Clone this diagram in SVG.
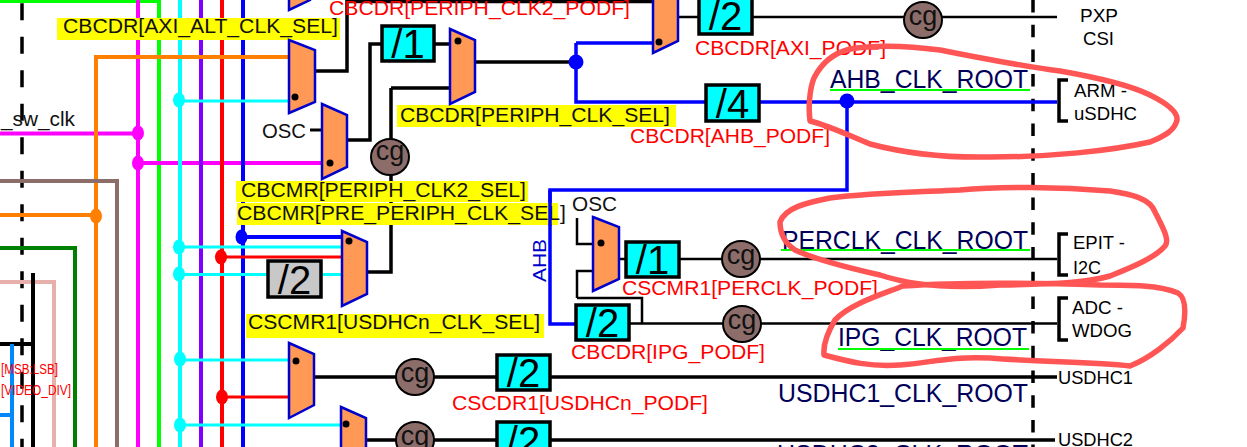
<svg xmlns="http://www.w3.org/2000/svg" width="1247" height="447" viewBox="0 0 1247 447">
<style>
text{font-family:"Liberation Sans",Arial,sans-serif;fill:#000;}
.sel{font-size:20.500px;fill:#111;}
.red{font-size:20.500px;fill:#f00;}
.root{font-size:25px;fill:#00005a;}
.out{font-size:19px;fill:#000;}
.dev{font-size:18px;fill:#000;}
.div{font-size:40px;text-anchor:middle;}
.cgt{font-size:27px;text-anchor:middle;fill:#111;}
.y{fill:#ff0;}
.mux{fill:#ff9955;stroke:#0000cc;stroke-width:2.5;}
.cg{fill:#8c6d6a;stroke:#000;stroke-width:2;}
.box{fill:#0ff;stroke:#000;stroke-width:3.5;}
.box2{fill:#c8c8c8;stroke:#000;stroke-width:3.5;}
.k{fill:none;stroke:#000;stroke-width:3.5;}
.k1{fill:none;stroke:#000;stroke-width:2.5;}
.b{fill:none;stroke:#00f;stroke-width:3.5;}
.c{fill:none;stroke-width:4;}
.c3{fill:none;stroke-width:3;}
.dash{fill:none;stroke:#000;stroke-width:3.5;}
.gr{fill:none;stroke:#0f0;stroke-width:2;}
.blob{fill:none;stroke:#ff5555;stroke-width:5.5;stroke-linejoin:round;}
</style>
<g id="connectors">
  <path class="dash" d="M22 3.300V447" stroke-dasharray="17 16.500"/>
  <path class="dash" d="M1033 0V447" stroke-dasharray="12.500 12.200"/>
  <path class="c" stroke="#0f0" d="M0 1H159V447"/>
  <path class="c" stroke="#f0f" d="M138 0V447M0 133.500H138M138 163H322"/>
  <path class="c" stroke="#0ff" d="M180 0V447"/>
  <path class="c" stroke="#7f00ff" d="M201 0V447"/>
  <path class="c" stroke="#f00" d="M222 0V447"/>
  <path class="c" stroke="#00f" d="M243 0V447"/>
  <path class="c" stroke="#ff7f00" d="M289 57H96V447M0 215H96"/>
  <path class="c" stroke="#8c6d6a" d="M0 181H117V447"/>
  <path class="c" stroke="#008000" d="M0 248H75V447"/>
  <path class="c" stroke="#e8b0ac" d="M0 282H54V447"/>
  <path class="c" stroke="#000" d="M33 273V447M0 344H33"/>
  <path class="c" stroke="#0088ff" d="M12 344V447M0 415H12"/>
  <path class="c3" stroke="#0ff" d="M180 101H289M180 247H342M180 274.500H342M180 360H289M180 425H341"/>
  <path class="c3" stroke="#f00" d="M222 257H342M222 397H289"/>
  <path class="c" stroke="#00f" d="M243 237H342"/>
  <path class="k" d="M315 71H347V0M347 1.500H653"/>
  <path class="k" d="M347 140H370V44H381"/>
  <path class="k" d="M434 44H450M391 88H450M391 88V272H367"/>
  <path class="k" d="M475 62H576"/>
  <path class="b" d="M576 43H653M576 43V102H1057M847 102V190H550V324H576"/>
  <path class="k1" d="M678 17H699M752 17H1057"/>
  <path class="k" d="M314 377H497M550 377H1057"/>
  <path class="k" d="M366 440H497M550 440H1055"/>
  <path class="k1" d="M577 218V244H593M577 298V271H593M577 298H642V323"/>
  <path class="k1" d="M619 259H626M679 259H1057"/>
  <path class="k1" d="M629 323.500H1057"/>
  <path class="k" d="M1068 80H1059V121H1068M1068 234H1059V275H1068M1068 298H1059V340H1068"/>
  <path class="c3" d="M310 130H322" stroke="#000"/>
</g>
<g id="dots">
  <ellipse cx="138" cy="133" rx="6" ry="7.500" fill="#f0f"/>
  <ellipse cx="138" cy="163" rx="6" ry="7.500" fill="#f0f"/>
  <ellipse cx="96" cy="216" rx="6" ry="7.500" fill="#ff7f00"/>
  <ellipse cx="179" cy="100" rx="6" ry="7.500" fill="#0ff"/>
  <ellipse cx="179" cy="247" rx="6" ry="7.500" fill="#0ff"/>
  <ellipse cx="179" cy="274" rx="6" ry="7.500" fill="#0ff"/>
  <ellipse cx="180" cy="359" rx="6" ry="7.500" fill="#0ff"/>
  <ellipse cx="180" cy="425" rx="6" ry="7.500" fill="#0ff"/>
  <ellipse cx="221" cy="257" rx="6" ry="7.500" fill="#f00"/>
  <ellipse cx="222" cy="397" rx="6" ry="7.500" fill="#f00"/>
  <ellipse cx="241.500" cy="237" rx="6" ry="7.500" fill="#00f"/>
  <circle cx="576" cy="62" r="7.500" fill="#00f"/>
  <circle cx="847" cy="101" r="7.500" fill="#00f"/>
</g>
<g id="labels-sel">
  <rect class="y" x="57" y="18" width="283" height="22"/>
  <text class="sel" x="63" y="33" textLength="275" lengthAdjust="spacingAndGlyphs">CBCDR[AXI_ALT_CLK_SEL]</text>
  <rect class="y" x="397" y="105" width="279" height="22"/>
  <text class="sel" x="400" y="122" textLength="270" lengthAdjust="spacingAndGlyphs">CBCDR[PERIPH_CLK_SEL]</text>
  <rect class="y" x="236" y="181" width="292" height="21"/>
  <text class="sel" x="241" y="197" textLength="285" lengthAdjust="spacingAndGlyphs">CBCMR[PERIPH_CLK2_SEL]</text>
  <rect class="y" x="237" y="203" width="321" height="22"/>
  <text class="sel" x="237" y="220" textLength="329" lengthAdjust="spacingAndGlyphs">CBCMR[PRE_PERIPH_CLK_SEL]</text>
  <rect class="y" x="246" y="314" width="298" height="24"/>
  <text class="sel" x="248" y="329" textLength="292" lengthAdjust="spacingAndGlyphs">CSCMR1[USDHCn_CLK_SEL]</text>
</g>
<path class="b" d="M550 190V226"/>
<g id="mux-axi-alt"><path class="mux" d="M289 40L315 50V102L289 113Z"/><circle cx="295" cy="97" r="3.500"/></g>
<g id="mux-periph2"><path class="mux" d="M322 104L347 115V167L322 179Z"/><circle cx="330" cy="163" r="3.500"/></g>
<g id="mux-periph"><path class="mux" d="M450 29L475 40V92L450 104Z"/><circle cx="458" cy="41" r="3.500"/></g>
<g id="mux-axi"><path class="mux" d="M653 -20L678 -10V41L653 53Z"/><circle cx="659" cy="42" r="3.500"/></g>
<g id="mux-top"><path class="mux" d="M289 -30L310 -20V0L289 10Z"/></g>
<g id="mux-usdhc-sel"><path class="mux" d="M342 231L367 242V294L342 306Z"/><circle cx="349" cy="241" r="3.500"/></g>
<g id="mux-usdhc1"><path class="mux" d="M289 343L314 354V405L289 418Z"/><circle cx="296" cy="361" r="3.500"/></g>
<g id="mux-usdhc2"><path class="mux" d="M341 407L366 418V480L341 490Z"/><circle cx="346" cy="424" r="3.500"/></g>
<g id="mux-perclk"><path class="mux" d="M593 217L619 227V279L593 291Z"/><circle cx="601" cy="243" r="3.500"/></g>
<g id="div-1a"><rect class="box" x="382" y="26" width="52" height="35"/><text class="div" x="408" y="58">/1</text></g>
<g id="div-axi"><rect class="box" x="699" y="-2" width="53" height="36"/><text class="div" x="725.500" y="30">/2</text></g>
<g id="div-ahb"><rect class="box" x="706" y="85" width="53" height="36"/><text class="div" x="732.500" y="118">/4</text></g>
<g id="div-gray"><rect class="box2" x="268" y="261" width="53" height="36"/><text class="div" x="294.500" y="294" fill="#111">/2</text></g>
<g id="div-perclk"><rect class="box" x="626" y="242" width="53" height="35"/><text class="div" x="652.500" y="274">/1</text></g>
<g id="div-ipg"><rect class="box" x="576" y="305" width="53" height="35"/><text class="div" x="602.500" y="337">/2</text></g>
<g id="div-usdhc1"><rect class="box" x="497" y="355" width="53" height="35"/><text class="div" x="523.500" y="387">/2</text></g>
<g id="div-usdhc2"><rect class="box" x="497" y="422" width="53" height="36"/><text class="div" x="523.500" y="455">/2</text></g>
<g id="cg-periph2"><ellipse class="cg" cx="390" cy="157" rx="19" ry="18"/><text class="cgt" x="390" y="160">cg</text></g>
<g id="cg-axi"><ellipse class="cg" cx="923" cy="20" rx="19" ry="18"/><text class="cgt" x="923" y="25">cg</text></g>
<g id="cg-perclk"><ellipse class="cg" cx="741" cy="259" rx="19" ry="18"/><text class="cgt" x="741" y="264">cg</text></g>
<g id="cg-ipg"><ellipse class="cg" cx="742" cy="324" rx="19" ry="18"/><text class="cgt" x="742" y="329">cg</text></g>
<g id="cg-usdhc1"><ellipse class="cg" cx="415" cy="377" rx="19" ry="18"/><text class="cgt" x="415" y="382">cg</text></g>
<g id="cg-usdhc2"><ellipse class="cg" cx="415" cy="440" rx="19" ry="18"/><text class="cgt" x="415" y="445">cg</text></g>
<g id="labels">
  <text class="sel" x="1" y="126" textLength="74" lengthAdjust="spacingAndGlyphs">_sw_clk</text>
  <text class="sel" x="262" y="138" textLength="44" lengthAdjust="spacingAndGlyphs">OSC</text>
  <text class="sel" x="572" y="211" textLength="45" lengthAdjust="spacingAndGlyphs">OSC</text>
  <text class="red" x="329" y="15" textLength="301" lengthAdjust="spacingAndGlyphs">CBCDR[PERIPH_CLK2_PODF]</text>
  <text class="red" x="695" y="55" textLength="191" lengthAdjust="spacingAndGlyphs">CBCDR[AXI_PODF]</text>
  <text class="red" x="630" y="143" textLength="200" lengthAdjust="spacingAndGlyphs">CBCDR[AHB_PODF]</text>
  <text class="red" x="622" y="295" textLength="256" lengthAdjust="spacingAndGlyphs">CSCMR1[PERCLK_PODF]</text>
  <text class="red" x="571" y="359" textLength="194" lengthAdjust="spacingAndGlyphs">CBCDR[IPG_PODF]</text>
  <text class="red" x="452" y="410" textLength="256" lengthAdjust="spacingAndGlyphs">CSCDR1[USDHCn_PODF]</text>
  <text x="1" y="374" font-size="15" style="fill:#f00" textLength="57" lengthAdjust="spacingAndGlyphs">[MSB:LSB]</text>
  <text x="1" y="395" font-size="15" style="fill:#f00" textLength="70" lengthAdjust="spacingAndGlyphs">[VIDEO_DIV]</text>
  <text transform="translate(546 282) rotate(-90)" font-size="18" style="fill:#0000cc" textLength="43" lengthAdjust="spacingAndGlyphs">AHB</text>
  <text class="root" x="830" y="88" textLength="198" lengthAdjust="spacingAndGlyphs">AHB_CLK_ROOT</text>
  <text class="root" x="782" y="249" textLength="246" lengthAdjust="spacingAndGlyphs">PERCLK_CLK_ROOT</text>
  <text class="root" x="838" y="346" textLength="189" lengthAdjust="spacingAndGlyphs">IPG_CLK_ROOT</text>
  <text class="root" x="778" y="402" textLength="250" lengthAdjust="spacingAndGlyphs">USDHC1_CLK_ROOT</text>
  <text class="root" x="777" y="463" textLength="251" lengthAdjust="spacingAndGlyphs">USDHC2_CLK_ROOT</text>
  <path class="gr" d="M830 90H1030M781 250H1030M838 349H1029"/>
  <text class="out" x="1080" y="22" textLength="38" lengthAdjust="spacingAndGlyphs">PXP</text>
  <text class="out" x="1083" y="45" textLength="31" lengthAdjust="spacingAndGlyphs">CSI</text>
  <text class="out" x="1074" y="97" textLength="53" lengthAdjust="spacingAndGlyphs">ARM -</text>
  <text class="out" x="1074" y="120" textLength="63" lengthAdjust="spacingAndGlyphs">uSDHC</text>
  <text class="out" x="1073" y="249" textLength="52" lengthAdjust="spacingAndGlyphs">EPIT -</text>
  <text class="out" x="1073" y="274" textLength="28" lengthAdjust="spacingAndGlyphs">I2C</text>
  <text class="out" x="1072" y="314" textLength="51" lengthAdjust="spacingAndGlyphs">ADC -</text>
  <text class="out" x="1072" y="337" textLength="60" lengthAdjust="spacingAndGlyphs">WDOG</text>
  <text class="dev" x="1058" y="384" textLength="75" lengthAdjust="spacingAndGlyphs">USDHC1</text>
  <text class="dev" x="1058" y="446" textLength="75" lengthAdjust="spacingAndGlyphs">USDHC2</text>
</g>
<g id="annotations">
  <path class="blob" d="M810 121C808 105 810 88 814 78C822 62 834 53 850 49C880 44 910 46 940 50C980 58 1020 66 1060 71C1100 78 1130 85 1150 95C1168 104 1178 112 1177 120C1175 130 1165 136 1150 142C1110 151 1050 157 990 157C940 158 900 152 870 144C850 136 830 126 810 121Z"/>
  <path class="blob" d="M780 222C785 208 805 203 830 198C870 193 920 192 960 190C1000 186 1060 187 1110 191C1130 194 1150 198 1155 212C1163 228 1170 240 1165 246C1155 258 1130 268 1110 276C1090 282 1060 284 1000 285C950 289 910 285 880 275C840 266 810 257 795 250C786 244 780 235 780 222Z"/>
  <path class="blob" d="M903 286C880 295 850 304 835 320C826 335 823 345 824 355C850 362 870 367 900 365C930 363 950 356 990 358C1040 362 1090 362 1130 366C1150 358 1170 342 1183 328C1186 312 1186 298 1178 293C1160 285 1130 285 1100 285C1040 283 960 282 903 286Z"/>
</g>
</svg>
